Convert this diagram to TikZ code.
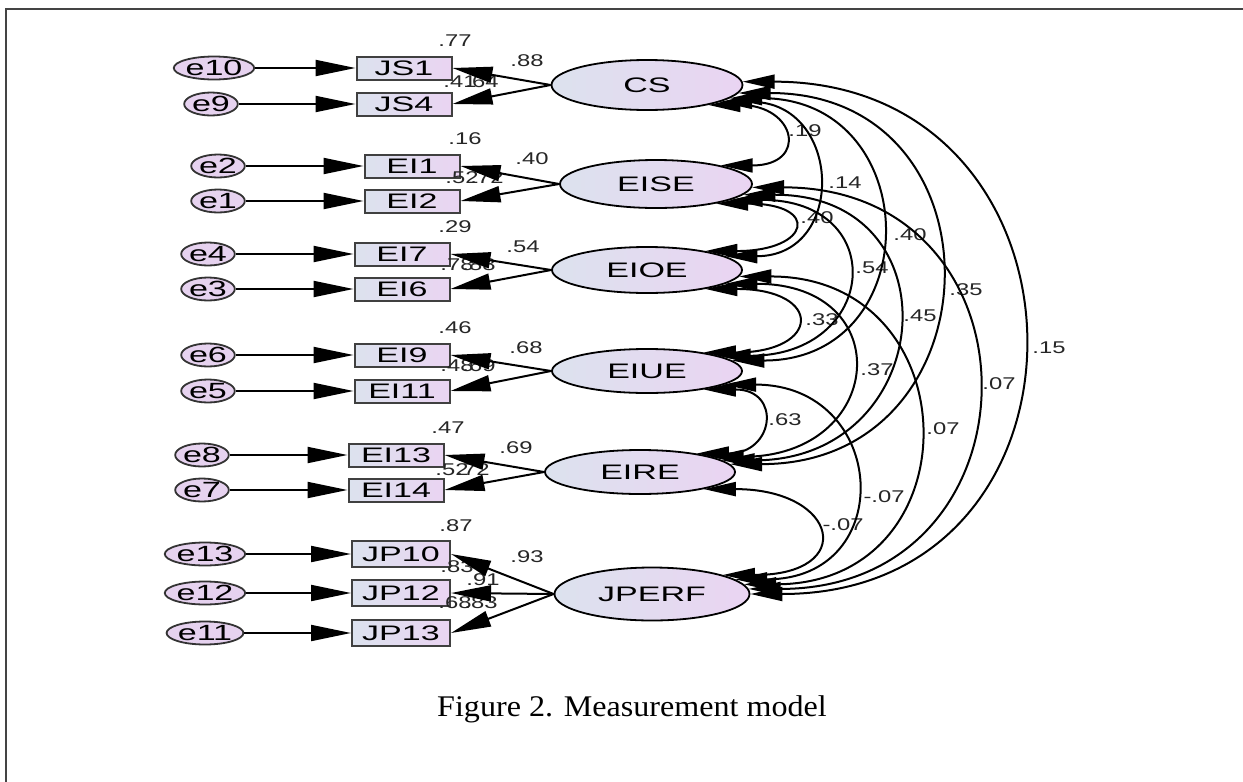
\documentclass[tikz,border=0pt]{standalone}
\usepackage{fontspec}
\setmainfont{Liberation Serif}
\newfontfamily\arialf{Liberation Sans}
\usetikzlibrary{arrows.meta,shapes.geometric}
\definecolor{gl}{HTML}{DCE2EE}
\definecolor{gr}{HTML}{EAD4F2}
\definecolor{ecol}{HTML}{E6D2EF}
\definecolor{framec}{HTML}{444444}
\newcommand{\bx}[1]{\scalebox{1.62}[1]{#1}}
\newcommand{\ex}[1]{\scalebox{1.55}[1]{#1}}
\newcommand{\lx}[1]{\scalebox{1.4}[1]{#1}}
\begin{document}
\begin{tikzpicture}[x=1pt,y=-1pt,
  obs/.style={draw=black!75, line width=2pt, rectangle, minimum width=95pt, minimum height=23pt, inner sep=0pt, left color=gl, right color=gr, font=\arialf\fontsize{21}{21}\selectfont},
  lat/.style={draw=black, line width=1.8pt, ellipse, minimum width=191pt, minimum height=48pt, inner sep=0pt, left color=gl, right color=gr, font=\arialf\fontsize{21}{21}\selectfont},
  err/.style={draw=black!80, line width=1.8pt, ellipse, fill=ecol, minimum width=38pt, minimum height=23pt, inner sep=0pt, font=\arialf\fontsize{22}{22}\selectfont},
  lab/.style={font=\arialf\fontsize{17}{17}\selectfont, inner sep=0pt, text=black!85},
  ar/.style={line width=2pt, -{Triangle[length=40pt,width=16pt]}},
  cov/.style={line width=2pt, {Triangle[length=32pt,width=14pt]}-{Triangle[length=32pt,width=14pt]}}
]
\useasboundingbox (0,0) rectangle (1243,782);
\fill[white] (0,0) rectangle (1243,782);
\draw[framec, line width=2.2pt] (6,782) -- (6,9) -- (1243,9);

% observed
\node[obs] (JS1) at (404,68) {\bx{JS1}};
\node[obs] (JS4) at (404,104) {\bx{JS4}};
\node[obs] (EI1) at (412,166) {\bx{EI1}};
\node[obs] (EI2) at (412,201) {\bx{EI2}};
\node[obs] (EI7) at (402,254) {\bx{EI7}};
\node[obs] (EI6) at (402,289) {\bx{EI6}};
\node[obs] (EI9) at (402,355) {\bx{EI9}};
\node[obs] (EI11) at (402,391) {\bx{EI11}};
\node[obs] (EI13) at (396,455) {\bx{EI13}};
\node[obs] (EI14) at (396,490) {\bx{EI14}};
\node[obs, minimum width=98pt, minimum height=26pt] (JP10) at (401,554) {\bx{JP10}};
\node[obs, minimum width=98pt, minimum height=26pt] (JP12) at (401,593) {\bx{JP12}};
\node[obs, minimum width=98pt, minimum height=26pt] (JP13) at (401,633) {\bx{JP13}};

% errors
\node[err] (e10) at (214,68) {\ex{e10}};
\node[err] (e9) at (211,104) {\ex{e9}};
\node[err] (e2) at (218,166) {\ex{e2}};
\node[err] (e1) at (218,201) {\ex{e1}};
\node[err] (e4) at (208,254) {\ex{e4}};
\node[err] (e3) at (208,289) {\ex{e3}};
\node[err] (e6) at (208,355) {\ex{e6}};
\node[err] (e5) at (208,391) {\ex{e5}};
\node[err] (e8) at (202,455) {\ex{e8}};
\node[err] (e7) at (202,490) {\ex{e7}};
\node[err] (e13) at (205,554) {\ex{e13}};
\node[err] (e12) at (205,593) {\ex{e12}};
\node[err] (e11) at (205,633) {\ex{e11}};

% latent
\node[lat, minimum height=50pt] (CS) at (647,85) {\bx{CS}};
\node[lat, minimum width=192pt] (EISE) at (656,184) {\bx{EISE}};
\node[lat, minimum width=190pt, minimum height=46pt] (EIOE) at (647,270) {\bx{EIOE}};
\node[lat, minimum width=190pt, minimum height=44pt] (EIUE) at (647,371) {\bx{EIUE}};
\node[lat, minimum width=190pt, minimum height=44pt] (EIRE) at (640,472) {\bx{EIRE}};
\node[lat, minimum width=195pt, minimum height=53pt] (JPERF) at (652,594) {\bx{JPERF}};

% loading / R2 labels
\node[lab] (r1) at (455,41) {\lx{.77}};
\node[lab] (w1) at (527,61) {\lx{.88}};
\node[lab] (r2) at (460,82) {\lx{.41}};
\node[lab] (w2) at (482,82) {\lx{.64}};
\node[lab] (r3) at (465,139) {\lx{.16}};
\node[lab] (w3) at (532,159) {\lx{.40}};
\node[lab] (r4) at (462,178) {\lx{.52}};
\node[lab] (w4) at (487,178) {\lx{.72}};
\node[lab] (r5) at (455,227) {\lx{.29}};
\node[lab] (w5) at (523,247) {\lx{.54}};
\node[lab] (r6) at (457,265) {\lx{.78}};
\node[lab] (w6) at (479,265) {\lx{.88}};
\node[lab] (r7) at (455,328) {\lx{.46}};
\node[lab] (w7) at (526,348) {\lx{.68}};
\node[lab] (r8) at (457,366) {\lx{.48}};
\node[lab] (w8) at (479,366) {\lx{.69}};
\node[lab] (r9) at (448,428) {\lx{.47}};
\node[lab] (w9) at (516,448) {\lx{.69}};
\node[lab] (r10) at (452,470) {\lx{.52}};
\node[lab] (w10) at (473,470) {\lx{.72}};
\node[lab] (r11) at (456,526) {\lx{.87}};
\node[lab] (w11) at (527,557) {\lx{.93}};
\node[lab] (r12) at (457,567) {\lx{.83}};
\node[lab] (w12) at (483,580) {\lx{.91}};
\node[lab] (r13) at (455,603) {\lx{.68}};
\node[lab] (w13) at (481,603) {\lx{.83}};

% covariance labels
\node[lab] (c1) at (805,131) {\lx{.19}};
\node[lab] (c2) at (845,183) {\lx{.14}};
\node[lab] (c3) at (817,218) {\lx{.40}};
\node[lab] (c4) at (910,235) {\lx{.40}};
\node[lab] (c5) at (872,268) {\lx{.54}};
\node[lab] (c6) at (966,290) {\lx{.35}};
\node[lab] (c7) at (920,316) {\lx{.45}};
\node[lab] (c8) at (822,320) {\lx{.33}};
\node[lab] (c9) at (1049,348) {\lx{.15}};
\node[lab] (c10) at (877,370) {\lx{.37}};
\node[lab] (c11) at (999,384) {\lx{.07}};
\node[lab] (c12) at (785,420) {\lx{.63}};
\node[lab] (c13) at (943,429) {\lx{.07}};
\node[lab] (c14) at (884,497) {\lx{-.07}};
\node[lab] (c15) at (843,525) {\lx{-.07}};

% error arrows
\foreach \e/\o in {e10/JS1,e9/JS4,e2/EI1,e1/EI2,e4/EI7,e3/EI6,e6/EI9,e5/EI11,e8/EI13,e7/EI14,e13/JP10,e12/JP12,e11/JP13}
  \draw[ar] (\e.east) -- (\o.west);

% loadings
\foreach \l/\o in {CS/JS1,CS/JS4,EISE/EI1,EISE/EI2,EIOE/EI7,EIOE/EI6,EIUE/EI9,EIUE/EI11,EIRE/EI13,EIRE/EI14,JPERF/JP10,JPERF/JP12,JPERF/JP13}
  \draw[ar] (\l.west) -- (\o.east);

% covariances
\draw[cov] (CS.-18) .. controls +(88,0) and +(88,0) .. (EISE.16);
\draw[cov] (CS.-13) .. controls +(122,0) and +(122,0) .. (EIOE.10);
\draw[cov] (CS.-9) .. controls +(196,0) and +(196,0) .. (EIUE.7);
\draw[cov] (CS.-5) .. controls +(270,0) and +(270,0) .. (EIRE.5);
\draw[cov] (CS.2) .. controls +(364,0) and +(364,0) .. (JPERF.0);
\draw[cov] (EISE.-18) .. controls +(105,0) and +(105,0) .. (EIOE.18);
\draw[cov] (EISE.-12) .. controls +(160,0) and +(160,0) .. (EIUE.12);
\draw[cov] (EISE.-7) .. controls +(215,0) and +(215,0) .. (EIRE.8);
\draw[cov] (EISE.-2) .. controls +(298,0) and +(298,0) .. (JPERF.3);
\draw[cov] (EIOE.-18) .. controls +(118,0) and +(118,0) .. (EIUE.18);
\draw[cov] (EIOE.-10) .. controls +(174,0) and +(174,0) .. (EIRE.12);
\draw[cov] (EIOE.-4) .. controls +(232,0) and +(232,0) .. (JPERF.6);
\draw[cov] (EIUE.-18) .. controls +(78,0) and +(78,0) .. (EIRE.18);
\draw[cov] (EIUE.-10) .. controls +(164,0) and +(164,0) .. (JPERF.10);
\draw[cov] (EIRE.-15) .. controls +(135,0) and +(135,0) .. (JPERF.15);

% caption
\node[font=\fontsize{30}{30}\selectfont, inner sep=0pt, anchor=base] (cap) at (632,716) {\scalebox{1.07}[1]{Figure 2. Measurement model}};
\end{tikzpicture}
\end{document}
